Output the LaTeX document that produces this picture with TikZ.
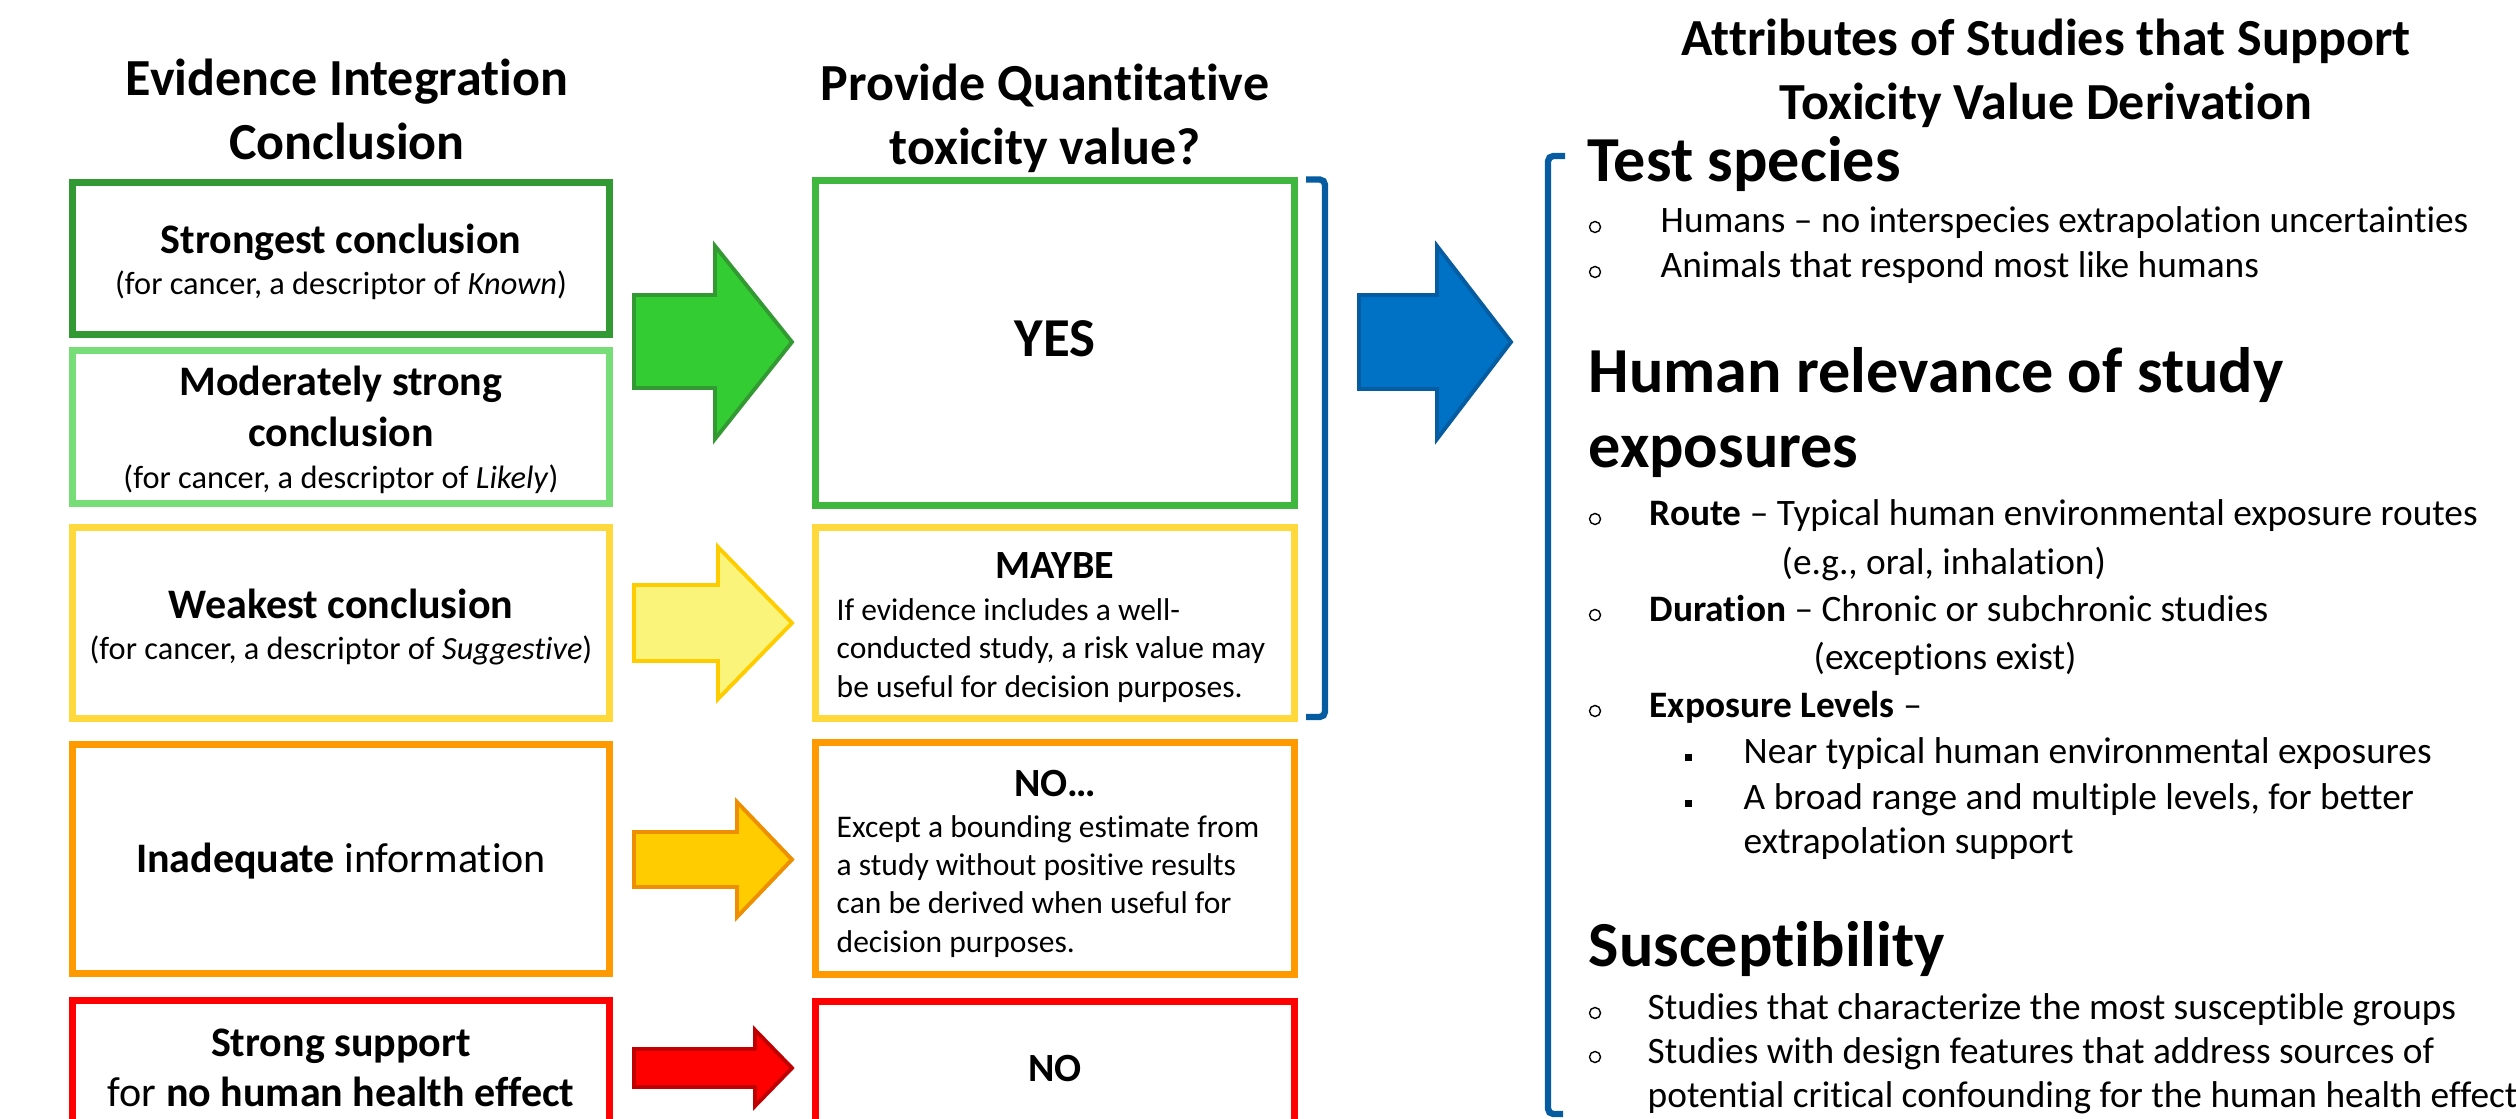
\documentclass[tikz,border=0pt]{standalone}
\usepackage{fontspec}
\setmainfont{Carlito}[Ligatures=NoCommon]
\definecolor{gDark}{RGB}{51,153,51}
\definecolor{gLight}{RGB}{119,221,119}
\definecolor{gYes}{RGB}{64,184,64}
\definecolor{yBox}{RGB}{255,217,59}
\definecolor{oBox}{RGB}{255,153,0}
\definecolor{rBox}{RGB}{255,0,0}
\definecolor{brBlue}{RGB}{5,92,160}
\definecolor{gArrFill}{RGB}{51,204,51}
\definecolor{yArrFill}{RGB}{250,245,122}
\definecolor{yArrLine}{RGB}{255,204,0}
\definecolor{oArrFill}{RGB}{255,204,0}
\definecolor{oArrLine}{RGB}{237,143,0}
\definecolor{rArrLine}{RGB}{192,0,0}
\definecolor{bArrFill}{RGB}{0,114,198}
\tikzset{
    evBox/.style={draw, line width=2pt, fill=white, inner sep=0pt, minimum width=5.37cm},
    valBox/.style={draw, line width=2pt, fill=white, inner sep=0pt, minimum width=4.79cm},
    titleTxt/.style={inner sep=0pt, anchor=base, align=center, font=\bfseries\fontsize{14.8pt}{18.2pt}\selectfont},
    boxHead/.style={inner sep=0pt, anchor=base, font=\bfseries\fontsize{11.95pt}{14.51pt}\selectfont},
    boxNote/.style={inner sep=0pt, anchor=base, font=\fontsize{9.2pt}{10.81pt}\selectfont},
    bodyTxt/.style={inner sep=0pt, anchor=base west, align=left, font=\fontsize{8.96pt}{10.81pt}\selectfont},
    verdict/.style={inner sep=0pt, anchor=base, font=\bfseries\fontsize{11.38pt}{13pt}\selectfont},
    attrHead/.style={inner sep=0pt, anchor=base west, font=\bfseries\fontsize{18.25pt}{21.34pt}\selectfont},
    attrTxt/.style={inner sep=0pt, anchor=base west, font=\fontsize{10.62pt}{12.52pt}\selectfont},
    hollowBullet/.style={circle, draw, line width=0.4pt, inner sep=0pt, minimum size=0.11cm},
    squareBullet/.style={fill, inner sep=0pt, minimum size=0.07cm},
    blockArrow/.style={line width=1.1pt, line join=miter},
    bracketLine/.style={draw=brBlue, line width=1.8pt, rounded corners=1.5pt}
}

\begin{document}
\begin{tikzpicture}[x=0.01cm, y=-0.01cm]
    \useasboundingbox (0,0) rectangle (2516,1119);
    \clip (0,0) rectangle (2516,1119);

    % Column titles (base = last line)
    \node[titleTxt] (evTitle) at (347,160) {Evidence Integration\\Conclusion};
    \node[titleTxt] (valTitle) at (1045,165) {Provide Quantitative\\toxicity value?};
    \node[titleTxt] (attrTitle) at (2046,120) {Attributes of Studies that Support\\Toxicity Value Derivation};

    % 1. Evidence boxes (left column)
    \node[evBox, draw=gDark,  minimum height=1.52cm] (ev1) at (341,258.5) {};
    \node[evBox, draw=gLight, minimum height=1.53cm] (ev2) at (341,427) {};
    \node[evBox, draw=yBox,   minimum height=1.91cm] (ev3) at (341,623) {};
    \node[evBox, draw=oBox,   minimum height=2.29cm] (ev4) at (341,859) {};
    \node[evBox, draw=rBox,   minimum height=1.96cm] (ev5) at (341,1098.5) {};

    \node[boxHead] (ev1a) at (341,254) {Strongest conclusion};
    \node[boxNote] (ev1b) at (341,295) {(for cancer, a descriptor of \textit{Known})};
    \node[boxHead] (ev2a) at (341,396) {Moderately strong};
    \node[boxHead] (ev2b) at (341,447) {conclusion};
    \node[boxNote] (ev2c) at (341,489) {(for cancer, a descriptor of \textit{Likely})};
    \node[boxHead] (ev3a) at (341,618) {Weakest conclusion};
    \node[boxNote] (ev3b) at (341,659) {(for cancer, a descriptor of \textit{Suggestive})};
    \node[boxHead] (ev4a) at (341,872) {Inadequate \mdseries information};
    \node[boxHead] (ev5a) at (341,1056) {Strong support};
    \node[boxHead] (ev5b) at (341,1106) {\mdseries for \bfseries no human health effect};

    % 2. Value boxes (middle column)
    \node[valBox, draw=gYes, minimum height=3.25cm] (val1) at (1055,343) {};
    \node[valBox, draw=yBox, minimum height=1.91cm] (val2) at (1055,623) {};
    \node[valBox, draw=oBox, minimum height=2.32cm] (val3) at (1055,858.5) {};
    \node[valBox, draw=rBox, minimum height=1.95cm] (val4) at (1055,1099) {};

    \node[verdict, font=\bfseries\fontsize{15.6pt}{17pt}\selectfont] (yesT) at (1055,357) {YES};
    \node[verdict] (maybeT) at (1055,578) {MAYBE};
    \node[bodyTxt] (maybeB) at (836,697) {If evidence includes a well-\\conducted study, a risk value may\\be useful for decision purposes.};
    \node[verdict] (noDotsT) at (1055,796) {NO…};
    \node[bodyTxt] (noDotsB) at (836,952) {Except a bounding estimate from\\a study without positive results\\can be derived when useful for\\decision purposes.};
    \node[verdict] (noT) at (1055,1081) {NO};

    % 3. Block arrows
    \draw[blockArrow, draw=gDark, fill=gArrFill] (634,295) -- (715,295) -- (715,246) -- (792,342) -- (715,439) -- (715,388) -- (634,388) -- cycle;
    \draw[blockArrow, draw=yArrLine, fill=yArrFill] (634,585) -- (718,585) -- (718,547) -- (792,623) -- (718,699) -- (718,661) -- (634,661) -- cycle;
    \draw[blockArrow, draw=oArrLine, fill=oArrFill] (634,832) -- (737,832) -- (737,802) -- (792,859.5) -- (737,917) -- (737,887) -- (634,887) -- cycle;
    \draw[blockArrow, draw=rArrLine, fill=rBox] (634,1049) -- (755,1049) -- (755,1030) -- (792,1068) -- (755,1106) -- (755,1087) -- (634,1087) -- cycle;
    \draw[blockArrow, draw=brBlue, fill=bArrFill] (1359,295) -- (1437,295) -- (1437,246) -- (1511,342) -- (1437,439) -- (1437,389) -- (1359,389) -- cycle;

    % 4. Brackets
    \draw[bracketLine] (1306,179.5) -- (1325,179.5) -- (1325,717) -- (1306,717);
    \draw[bracketLine] (1565,156) -- (1548,156) -- (1548,1114) -- (1563,1114);

    % 5. Attributes (right column)
    \node[attrHead] (hSpecies) at (1587,182) {Test species};
    \node[hollowBullet] (bu1) at (1595,227) {};
    \node[attrTxt] (sp1) at (1660,233) {Humans – no interspecies extrapolation uncertainties};
    \node[hollowBullet] (bu2) at (1595,272) {};
    \node[attrTxt] (sp2) at (1660,278) {Animals that respond most like humans};

    \node[attrHead] (hRelA) at (1588,393) {Human relevance of study};
    \node[attrHead] (hRelB) at (1588,468) {exposures};
    \node[hollowBullet] (bu3) at (1595,519) {};
    \node[attrTxt] (rel1) at (1649,525) {\textbf{Route} – Typical human environmental exposure routes};
    \node[attrTxt] (rel1b) at (1781,574) {(e.g., oral, inhalation)};
    \node[hollowBullet] (bu4) at (1595,615) {};
    \node[attrTxt] (rel2) at (1649,621) {\textbf{Duration} – Chronic or subchronic studies};
    \node[attrTxt] (rel2b) at (1813,669) {(exceptions exist)};
    \node[hollowBullet] (bu5) at (1595,711) {};
    \node[attrTxt] (rel3) at (1649,717) {\textbf{Exposure Levels} –};
    \node[squareBullet] (sq1) at (1688,757) {};
    \node[attrTxt] (lev1) at (1743,763) {Near typical human environmental exposures};
    \node[squareBullet] (sq2) at (1688,803) {};
    \node[attrTxt] (lev2) at (1743,809) {A broad range and multiple levels, for better};
    \node[attrTxt] (lev2b) at (1743,853) {extrapolation support};

    \node[attrHead] (hSus) at (1588,966) {Susceptibility};
    \node[hollowBullet] (bu6) at (1595,1013) {};
    \node[attrTxt] (sus1) at (1647,1019) {Studies that characterize the most susceptible groups};
    \node[hollowBullet] (bu7) at (1595,1057) {};
    \node[attrTxt] (sus2) at (1647,1063) {Studies with design features that address sources of};
    \node[attrTxt] (sus2b) at (1647,1107) {potential critical confounding for the human health effect};
\end{tikzpicture}
\end{document}
